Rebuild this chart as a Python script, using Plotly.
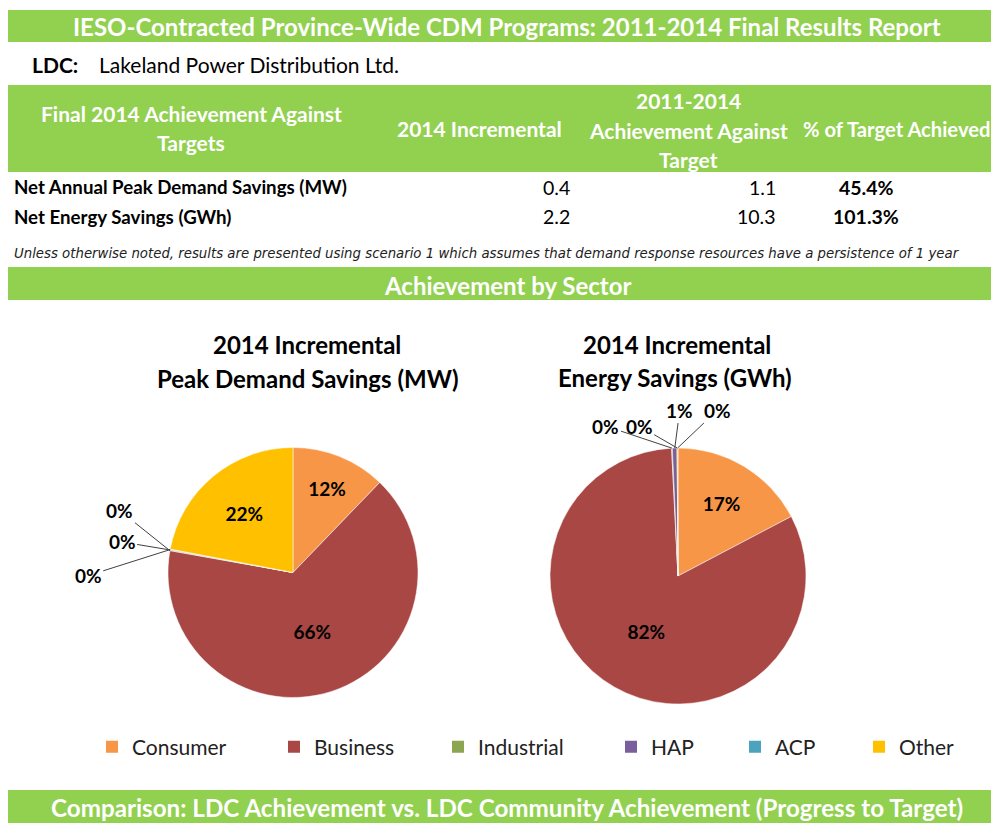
import math
import plotly.graph_objects as go

W, H = 999, 823
OFF = 8  # the page body margin shifts the figure by 8px; design in page pixels
GREEN = "#92D050"
FONT = "Lato"

# ---------------- data ----------------
sectors = ["Consumer", "Business", "Industrial", "HAP", "ACP", "Other"]
sector_colors = ["#F79646", "#A94745", "#8BA550", "#7A5F9C", "#4BA3BD", "#FFC000"]
peak_demand_pct = [12.2, 65.6, 0.1, 0.1, 0.0, 22.0]
energy_pct = [17.3, 81.9, 0.1, 0.6, 0.0, 0.1]

header_col1 = ["Final 2014 Achievement Against", "Targets"]
header_col2 = ["2014 Incremental"]
header_col3 = ["2011-2014", "Achievement Against", "Target"]
header_col4 = ["% of Target Achieved"]
row_labels = ["Net Annual Peak Demand Savings (MW)", "Net Energy Savings (GWh)"]
incremental_2014 = [0.4, 2.2]
achievement_2011_2014 = [1.1, 10.3]
pct_target = [45.4, 101.3]

report_title = "IESO-Contracted Province-Wide CDM Programs: 2011-2014 Final Results Report"
ldc_name = "Lakeland Power Distribution Ltd."
note = ("Unless otherwise noted, results are presented using scenario 1 which assumes that "
        "demand response resources have a persistence of 1 year")
section_title = "Achievement by Sector"
bottom_title = "Comparison: LDC Achievement vs. LDC Community Achievement (Progress to Target)"
left_title = ["2014 Incremental", "Peak Demand Savings (MW)"]
right_title = ["2014 Incremental", "Energy Savings (GWh)"]


def px(x):
    return (x - OFF) / W


def py(y):
    return 1 - (y - OFF) / H


fig = go.Figure()

# ---------------- pies ----------------
pie_common = dict(
    labels=sectors, sort=False, direction="clockwise", rotation=0,
    marker=dict(colors=sector_colors, line=dict(color="white", width=0.5)),
    texttemplate="%{percent:.0%}", textposition="inside",
    insidetextorientation="horizontal",
    textfont=dict(family=FONT, size=19, color="black", weight="bold"),
    hoverinfo="label+percent", showlegend=False,
)
fig.add_trace(go.Pie(values=peak_demand_pct, name="Peak Demand",
                     domain=dict(x=[px(168), px(418)], y=[py(698), py(447)]), **pie_common))
fig.add_trace(go.Pie(values=energy_pct, name="Energy",
                     domain=dict(x=[px(550), px(806)], y=[py(704), py(448)]), **pie_common))

# ---------------- legend (one legend per sector, to mimic the spacing) ----------------
legend_text_x = [133, 315, 479, 652, 776, 900]
legends = {}
for i, (name, color) in enumerate(zip(sectors, sector_colors)):
    lg = "legend" if i == 0 else f"legend{i + 1}"
    fig.add_trace(go.Scatter(x=[None], y=[None], mode="markers", name=name,
                             marker=dict(symbol="square", size=12, color=color),
                             legend=lg, showlegend=True, hoverinfo="skip"))
    legends[lg] = dict(x=px(legend_text_x[i] - 41), xanchor="left", y=py(747), yanchor="middle",
                       font=dict(family=FONT, size=21, color="#222222"),
                       bgcolor="rgba(0,0,0,0)", itemclick=False, itemdoubleclick=False)

shapes = []
annotations = []


def bar(y0, y1, x0=8, x1=1010):
    shapes.append(dict(type="rect", xref="paper", yref="paper", x0=px(x0), x1=px(x1),
                       y0=py(y1), y1=py(y0), fillcolor=GREEN, line=dict(width=0), layer="below"))


def text(x, y, s, size=17, color="black", bold=False, italic=False, xanchor="center",
         family=FONT):
    annotations.append(dict(xref="paper", yref="paper", x=px(x), y=py(y), text=s,
                            showarrow=False, xanchor=xanchor, yanchor="middle",
                            font=dict(family=family, size=size, color=color,
                                      weight="bold" if bold else "normal",
                                      style="italic" if italic else "normal")))


# top gray line
shapes.append(dict(type="line", xref="paper", yref="paper", x0=px(0), x1=px(1010),
                   y0=py(7), y1=py(7), line=dict(color="#C0C0C0", width=1.5)))

# green bars
bar(10, 42)
bar(85, 172)
bar(267, 300)
bar(790, 840)

text(507, 26, report_title, size=24, color="white", bold=True)
text(30, 65, "LDC:", size=21, bold=True, xanchor="left")
text(97, 65, ldc_name, size=21, xanchor="left")

# table header
for j, s in enumerate(header_col1):
    text(191, 113 + 30 * j, s, size=21, color="white", bold=True)
text(479, 129, header_col2[0], size=21, color="white", bold=True)
for j, s in enumerate(header_col3):
    text(688, 100 + 30 * j, s, size=21, color="white", bold=True)
text(896, 129, header_col4[0], size=20.2, color="white", bold=True)

row_y = [187, 217]
for i, lab in enumerate(row_labels):
    text(12, row_y[i], lab, size=18.7, bold=True, xanchor="left")
    text(572, row_y[i], f"{incremental_2014[i]:.1f}", size=19.5, xanchor="right")
    text(778, row_y[i], f"{achievement_2011_2014[i]:.1f}", size=19.5, xanchor="right")
    text(866, row_y[i], f"{pct_target[i]:.1f}%", size=19.5, bold=True)

text(12, 253, note, size=13.3, italic=True, xanchor="left", family="DejaVu Sans", color="#222222")

text(507, 285, section_title, size=24, color="white", bold=True)
text(507, 807, bottom_title, size=24.2, color="white", bold=True)

# pie titles
text(307, 344, left_title[0], size=24, bold=True)
text(307, 378, left_title[1], size=24, bold=True)
text(677, 344, right_title[0], size=24, bold=True)
text(675, 377, right_title[1], size=24, bold=True)


# outside labels for tiny slices with leader lines
def edge_point(cx, cy, r, vals, idx):
    tot = sum(vals)
    start = sum(vals[:idx]) / tot
    mid = start + vals[idx] / tot / 2
    th = 2 * math.pi * mid
    return cx + r * math.sin(th), cy - r * math.cos(th)


def small_labels(cx, cy, r, vals, offsets):
    for idx, (ax, ay) in offsets.items():
        ex, ey = edge_point(cx, cy, r, vals, idx)
        pct = round(vals[idx] / sum(vals) * 100)
        annotations.append(dict(xref="paper", yref="paper", x=px(ex), y=py(ey), ax=ax, ay=ay,
                                text=f"{pct}%", showarrow=True, arrowhead=0, arrowwidth=1,
                                arrowcolor="#404040", standoff=0,
                                font=dict(family=FONT, size=19, color="black", weight="bold")))


small_labels(293, 573, 125, peak_demand_pct, {2: (-50, -40), 3: (-48, -8), 4: (-82, 26)})
small_labels(678, 576, 128, energy_pct, {2: (-66, -22), 3: (5, -38), 4: (-38, -22), 5: (40, -38)})

fig.update_xaxes(visible=False, range=[0, 1])
fig.update_yaxes(visible=False, range=[0, 1])
fig.update_layout(
    width=W, height=H, margin=dict(l=0, r=0, t=0, b=0),
    paper_bgcolor="white", plot_bgcolor="rgba(0,0,0,0)",
    shapes=shapes, annotations=annotations,
    uniformtext=dict(minsize=14, mode="hide"),
    font=dict(family=FONT),
    **legends,
)

fig.write_html("out.html")
